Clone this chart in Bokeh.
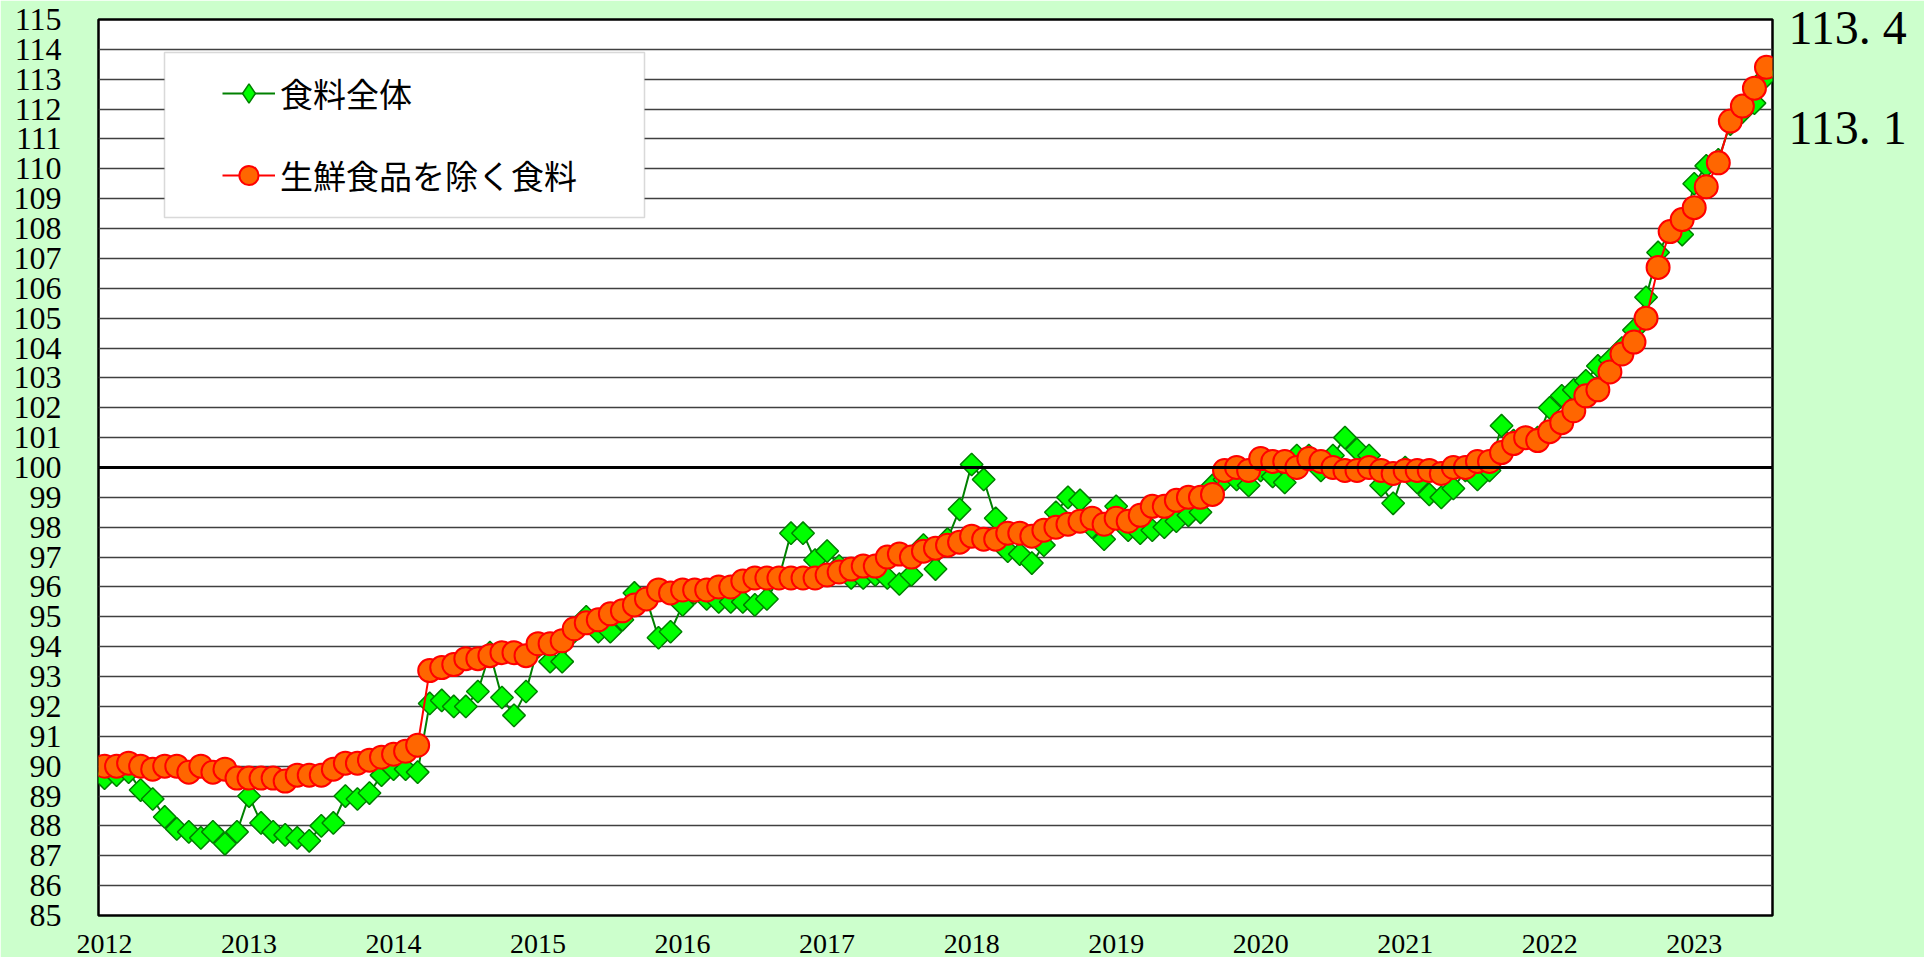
import numpy as np
from bokeh.plotting import figure
from bokeh.models import (Range1d, FixedTicker, Span, Legend, LegendItem,
                          BoxAnnotation, LinearAxis)
from bokeh.embed import file_html
from bokeh.resources import INLINE

# ---------------- data ----------------
years = [str(y) for y in range(2012, 2024)]
y_ticks = list(range(85, 116))

# 食料全体 (monthly, Jan 2012 - Jul 2023)
food_all = [
    89.6, 89.7, 89.8, 89.2, 88.9, 88.3, 87.9, 87.8, 87.6, 87.8, 87.4, 87.8,
    89.0, 88.1, 87.8, 87.7, 87.6, 87.5, 88.0, 88.1, 89.0, 88.9, 89.1, 89.7,
    89.9, 89.9, 89.8, 92.1, 92.2, 92.0, 92.0, 92.5, 93.8, 92.3, 91.7, 92.5,
    94.0, 93.5, 93.5, 94.5, 95.0, 94.5, 94.5, 94.9, 95.8, 95.6, 94.3, 94.5,
    95.4, 95.8, 95.6, 95.5, 95.5, 95.5, 95.4, 95.6, 96.3, 97.8, 97.8, 96.9,
    97.2, 96.7, 96.3, 96.3, 96.4, 96.3, 96.1, 96.4, 97.4, 96.6, 97.6, 98.6,
    100.1, 99.6, 98.3, 97.2, 97.1, 96.8, 97.4, 98.5, 99.0, 98.9, 98.0, 97.6,
    98.7, 97.9, 97.8, 97.9, 98.0, 98.2, 98.4, 98.5, 99.4, 99.6, 99.6, 99.4,
    99.9, 99.7, 99.5, 100.4, 100.4, 99.9, 100.4, 101.0, 100.6, 100.4, 99.4, 98.8,
    100.0, 99.5, 99.1, 99.0, 99.3, 99.9, 99.6, 99.9, 101.4, 100.9, 101.0, 101.0,
    102.0, 102.4, 102.6, 102.9, 103.4, 103.6, 104.0, 104.6, 105.7, 107.2, 107.9, 107.8,
    109.5, 110.1, 110.3, 111.5, 111.9, 112.2, 113.1,
]

# 生鮮食品を除く食料
food_ex_fresh = [
    90.0, 90.0, 90.1, 90.0, 89.9, 90.0, 90.0, 89.8, 90.0, 89.8, 89.9, 89.6,
    89.6, 89.6, 89.6, 89.5, 89.7, 89.7, 89.7, 89.9, 90.1, 90.1, 90.2, 90.3,
    90.4, 90.5, 90.7, 93.2, 93.3, 93.4, 93.6, 93.6, 93.7, 93.8, 93.8, 93.7,
    94.1, 94.1, 94.2, 94.6, 94.8, 94.9, 95.1, 95.2, 95.4, 95.6, 95.9, 95.8,
    95.9, 95.9, 95.9, 96.0, 96.0, 96.2, 96.3, 96.3, 96.3, 96.3, 96.3, 96.3,
    96.4, 96.5, 96.6, 96.7, 96.7, 97.0, 97.1, 97.0, 97.2, 97.3, 97.4, 97.5,
    97.7, 97.6, 97.6, 97.8, 97.8, 97.7, 97.9, 98.0, 98.1, 98.2, 98.3, 98.1,
    98.3, 98.2, 98.4, 98.7, 98.7, 98.9, 99.0, 99.0, 99.1, 99.9, 100.0, 99.9,
    100.3, 100.2, 100.2, 100.0, 100.3, 100.2, 100.0, 99.9, 99.9, 100.0, 99.9, 99.8,
    99.9, 99.9, 99.9, 99.8, 100.0, 100.0, 100.2, 100.2, 100.5, 100.8, 101.0, 100.9,
    101.2, 101.5, 101.9, 102.4, 102.6, 103.2, 103.8, 104.2, 105.0, 106.7, 107.9, 108.3,
    108.7, 109.4, 110.2, 111.6, 112.1, 112.7, 113.4,
]

months = list(range(len(food_all)))
year_pos = [12 * k for k in range(len(years))]

BG = "#CCFFCC"
SERIF = "Liberation Serif"
JP = "Noto Sans CJK JP"
H = 957
W = 1924

p = figure(width=W, height=H, output_backend="svg", toolbar_location=None,
           title=None,
           x_range=Range1d(-0.5, len(months) - 0.5), y_range=Range1d(85, 115),
           min_border_left=98, min_border_right=W - 1772, min_border_top=19,
           min_border_bottom=H - 915)
p.border_fill_color = BG
p.background_fill_color = "white"
p.outline_line_color = "black"
p.outline_line_width = 2.5

# axes
p.xaxis.ticker = FixedTicker(ticks=year_pos)
p.xaxis.major_label_overrides = {pos: lab for pos, lab in zip(year_pos, years)}
p.xaxis.axis_line_color = None
p.xaxis.major_tick_line_color = None
p.xaxis.minor_tick_line_color = None
p.xaxis.major_tick_out = 0
p.xaxis.major_tick_in = 0
p.xaxis.major_label_standoff = 19
p.xaxis.major_label_text_line_height = 0.6
p.xaxis.major_label_text_font = SERIF
p.xaxis.major_label_text_font_size = "28px"
p.xaxis.major_label_text_color = "black"
p.xgrid.visible = False

p.yaxis.ticker = FixedTicker(ticks=y_ticks)
p.yaxis.axis_line_color = None
p.yaxis.major_tick_line_color = None
p.yaxis.minor_tick_line_color = None
p.yaxis.major_tick_out = 0
p.yaxis.major_tick_in = 0
p.yaxis.major_label_standoff = 37
p.yaxis.major_label_text_font = SERIF
p.yaxis.major_label_text_font_size = "32px"
p.yaxis.major_label_text_color = "black"
p.ygrid.ticker = FixedTicker(ticks=y_ticks)
p.ygrid.grid_line_color = "#404040"
p.ygrid.grid_line_width = 1.5

p.add_layout(Span(location=100, dimension="width", line_color="black", line_width=3))

# series
g_line = p.line(months, food_all, line_color="#008000", line_width=2)
g_sc = p.scatter(months, food_all, marker="square", angle=np.pi / 4, size=16,
                 fill_color="#00FF00", line_color="#008000", line_width=1.5)
r_line = p.line(months, food_ex_fresh, line_color="#FF0000", line_width=2)
r_sc = p.scatter(months, food_ex_fresh, marker="circle", size=23,
                 fill_color="#FF6600", line_color="#FF0000", line_width=2)
# diamond used only for the legend swatch
g_key = p.scatter(months, food_all, marker="diamond", size=20,
                  fill_color="#00FF00", line_color="#008000", line_width=1.5,
                  visible=False)

# legend frame
p.add_layout(BoxAnnotation(left=66, right=546, bottom=698, top=863,
                           left_units="screen", right_units="screen",
                           top_units="screen", bottom_units="screen",
                           fill_color="white", fill_alpha=1.0,
                           line_color="#808080", line_width=1.5))
legend = Legend(items=[LegendItem(label="食料全体", renderers=[g_line, g_key]),
                       LegendItem(label="生鮮食品を除く食料", renderers=[r_line, r_sc])],
                location=(124, 716), orientation="vertical", glyph_width=53,
                glyph_height=48, label_height=48, label_standoff=5, spacing=34,
                padding=0, margin=0, border_line_color=None,
                background_fill_alpha=0, inactive_fill_alpha=0,
                label_text_font=JP, label_text_font_size="33px",
                label_text_color="black")
p.add_layout(legend)

# latest values written at the right of the frame (right-hand axis labels)
note_pos = [115, 111.4]           # vertical placement of the two notes
note_text = [f"{food_ex_fresh[-1]:.1f}".replace(".", ". "),
             f"{food_all[-1]:.1f}".replace(".", ". ")]
rax = LinearAxis(ticker=FixedTicker(ticks=note_pos),
                 major_label_overrides={k: t for k, t in zip(note_pos, note_text)},
                 axis_line_color=None, major_tick_line_color=None,
                 minor_tick_line_color=None, major_tick_out=0, major_tick_in=0,
                 major_label_standoff=16, major_label_text_font=SERIF,
                 major_label_text_font_size="48px",
                 major_label_text_color="black")
p.add_layout(rax, "right")

open("out.html", "w").write(file_html(p, INLINE))
